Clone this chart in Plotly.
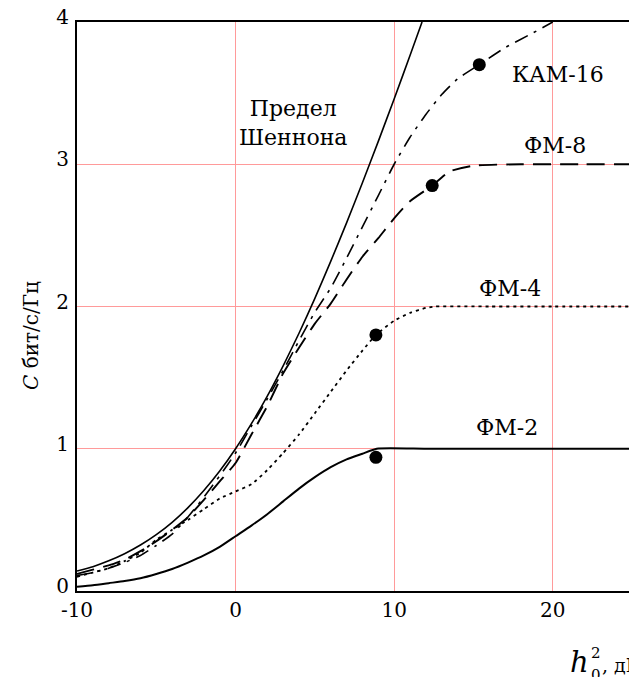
import plotly.graph_objects as go

# ---- data ----
# Shannon limit
shannon_x = [-10, -9, -8, -7, -6, -5, -4, -3, -2, -1, 0, 1, 2, 3, 4, 5, 6, 7, 8, 9, 10, 11, 11.76]
shannon_y = [0.14, 0.171, 0.212, 0.262, 0.323, 0.396, 0.483, 0.586, 0.706, 0.843, 1.0, 1.176,
             1.370, 1.583, 1.812, 2.057, 2.317, 2.588, 2.870, 3.161, 3.459, 3.764, 4.0]

# ФМ-2
pm2_x = [-10, -9, -8, -7, -6, -5, -4, -3, -2, -1, 0, 1, 2, 3, 4, 5, 6, 7, 8, 8.9,
         12, 18, 25]
pm2_y = [0.03, 0.04, 0.055, 0.07, 0.09, 0.12, 0.155, 0.2, 0.25, 0.31, 0.385, 0.46, 0.54,
         0.63, 0.72, 0.80, 0.87, 0.925, 0.965, 1.0, 1.0, 1.0, 1.0]

# ФМ-4
pm4_x = [-10, -9, -8, -7, -6, -5, -4, -3, -2, -1, 0, 1, 2, 3, 4, 5, 6, 7, 8, 8.85,
         10, 11, 12, 12.6, 16, 20, 25]
pm4_y = [0.10, 0.13, 0.16, 0.21, 0.27, 0.36, 0.43, 0.50, 0.575, 0.65, 0.70, 0.75, 0.85,
         0.97, 1.10, 1.25, 1.40, 1.55, 1.69, 1.80, 1.90, 1.955, 1.99, 2.0, 2.0, 2.0, 2.0]

# ФМ-8
pm8_x = [-10, -9, -8, -7, -6, -5, -4, -3, -2, -1, 0, 1, 2, 3, 4, 5, 6, 7, 8, 9, 10, 11,
         12.4, 13.5, 15, 18, 22, 25]
pm8_y = [0.12, 0.15, 0.18, 0.22, 0.28, 0.35, 0.43, 0.52, 0.64, 0.77, 0.90, 1.10, 1.30,
         1.53, 1.71, 1.88, 2.02, 2.19, 2.35, 2.48, 2.62, 2.74, 2.85, 2.95, 2.99, 3.0,
         3.0, 3.0]

# КАМ-16
qam_x = [-10, -9, -8, -7, -6, -5, -4, -3, -2, -1, 0, 1, 2, 3, 4, 5, 6, 7, 8, 9, 10, 11,
         12, 13, 14, 15.37, 17, 18.7, 20]
qam_y = [0.11, 0.13, 0.16, 0.2, 0.25, 0.32, 0.40, 0.52, 0.66, 0.81, 0.97, 1.16, 1.35,
         1.55, 1.76, 1.96, 2.13, 2.34, 2.56, 2.78, 3.0, 3.19, 3.35, 3.49, 3.60, 3.70,
         3.82, 3.92, 4.0]

# marked points
mark_x = [8.85, 8.85, 12.4, 15.37]
mark_y = [0.94, 1.80, 2.85, 3.70]

# curve labels
label_text = ["Предел<br>Шеннона", "КАМ-16", "ФМ-8", "ФМ-4", "ФМ-2"]
label_x = [3.6, 20.35, 20.16, 17.33, 17.14]
label_y = [3.29, 3.63, 3.13, 2.13, 1.146]

x_ticks = [-10, 0, 10, 20]
y_ticks = [0, 1, 2, 3, 4]

FONT = "DejaVu Serif, Liberation Serif, Noto Serif, serif"
GRID = "#ff9a9a"

fig = go.Figure()
fig.add_trace(go.Scatter(x=shannon_x, y=shannon_y, mode="lines",
                         line=dict(color="black", width=1.6, shape="spline", smoothing=0.5)))
fig.add_trace(go.Scatter(x=pm2_x, y=pm2_y, mode="lines",
                         line=dict(color="black", width=2, shape="spline", smoothing=0.5)))
fig.add_trace(go.Scatter(x=pm4_x, y=pm4_y, mode="lines",
                         line=dict(color="black", width=1.8, dash="3px,4px",
                                   shape="spline", smoothing=0.5)))
fig.add_trace(go.Scatter(x=pm8_x, y=pm8_y, mode="lines",
                         line=dict(color="black", width=1.9, dash="18px,9px",
                                   shape="spline", smoothing=0.5)))
fig.add_trace(go.Scatter(x=qam_x, y=qam_y, mode="lines",
                         line=dict(color="black", width=1.6, dash="14px,7px,3px,7px",
                                   shape="spline", smoothing=0.5)))
fig.add_trace(go.Scatter(x=mark_x, y=mark_y, mode="markers",
                         marker=dict(color="black", size=13)))


def px_x(p):
    return (p - 69) / 555.0


def px_y(p):
    return (583 - p) / 569.0


annotations = []
for t, xx, yy in zip(label_text, label_x, label_y):
    annotations.append(dict(x=xx, y=yy, xref="x", yref="y", text=t, showarrow=False,
                            xanchor="center", yanchor="middle",
                            font=dict(family=FONT, size=22, color="black")))

# left axis title
annotations.append(dict(x=px_x(23), y=px_y(328), xref="paper", yref="paper",
                        xanchor="center", yanchor="middle",
                        text="<i>C</i> бит/с/Гц", textangle=-90, showarrow=False,
                        font=dict(family=FONT, size=20, color="black")))
# x axis title, pieces placed like the stacked sub/superscript of the reference
annotations.append(dict(x=px_x(571), y=px_y(654), xref="paper", yref="paper",
                        xanchor="center", yanchor="middle", text="<i>h</i>",
                        showarrow=False, font=dict(family=FONT, size=29, color="black")))
annotations.append(dict(x=px_x(588), y=px_y(645), xref="paper", yref="paper",
                        xanchor="center", yanchor="middle", text="2",
                        showarrow=False, font=dict(family=FONT, size=15, color="black")))
annotations.append(dict(x=px_x(588), y=px_y(667), xref="paper", yref="paper",
                        xanchor="center", yanchor="middle", text="0",
                        showarrow=False, font=dict(family=FONT, size=15, color="black")))
annotations.append(dict(x=px_x(592), y=px_y(657), xref="paper", yref="paper",
                        xanchor="left", yanchor="middle", text=", дБ",
                        showarrow=False, font=dict(family=FONT, size=19, color="black")))
# partly hidden label at right edge
annotations.append(dict(x=px_x(635), y=px_y(385), xref="paper", yref="paper",
                        xanchor="center", yanchor="middle",
                        text="<i>C</i> бит/с/Гц", textangle=-90, showarrow=False,
                        font=dict(family=FONT, size=15, color="black")))

fig.update_layout(
    template="none",
    width=637, height=677,
    margin=dict(l=69, r=13, t=14, b=94, autoexpand=False),
    plot_bgcolor="white", paper_bgcolor="white",
    showlegend=False,
    font=dict(family=FONT, size=20, color="black"),
    annotations=annotations,
    xaxis=dict(range=[-10, 25], tickvals=x_ticks, ticktext=[str(v) for v in x_ticks],
               showgrid=True, gridcolor=GRID, gridwidth=1, automargin=False,
               showline=True, linecolor="black", linewidth=2, mirror=True,
               zeroline=False, ticks="", ticklabelstandoff=0,
               ticklabeloverflow="allow",
               tickfont=dict(family=FONT, size=20, color="black")),
    yaxis=dict(range=[0, 4], tickvals=y_ticks,
               showgrid=True, gridcolor=GRID, gridwidth=1, automargin=False,
               showline=True, linecolor="black", linewidth=2, mirror=True,
               zeroline=False, ticks="", ticklabelstandoff=2, ticklabelshift=-5,
               ticklabeloverflow="allow",
               tickfont=dict(family=FONT, size=20, color="black")),
)

fig.write_html("out.html")
